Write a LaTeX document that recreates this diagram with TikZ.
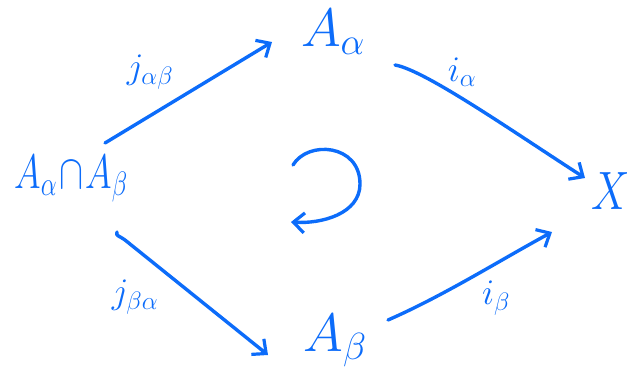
\documentclass[tikz,border=0pt]{standalone}
\usepackage{fix-cm}
\usepackage{graphicx}
\usetikzlibrary{arrows.meta,calc}
\definecolor{ink}{RGB}{12,108,250}
\begin{document}
\begin{tikzpicture}[x=1pt,y=-1pt,
  obj/.style={text=ink,inner sep=0pt,font=\fontsize{54}{60}\selectfont},
  lbl/.style={text=ink,inner sep=0pt,font=\fontsize{36}{42}\selectfont},
  conn/.style={draw=ink,line width=3.4pt,line cap=round,line join=round,
    -{Straight Barb[length=11pt,width=20pt,line width=3.2pt]}}]
\useasboundingbox (0,0) rectangle (627,373);
\node[obj] (AB) at (71,179) {\scalebox{0.82}[1.1]{\fontsize{44}{50}\selectfont$A_\alpha\!\cap\! A_\beta$}};
\node[obj] (Aa) at (333,32) {$A_\alpha$};
\node[obj] (Ab) at (335,341) {$A_\beta$};
\node[obj] (X) at (611,191) {\scalebox{0.8}[1]{$X$}};
\node[lbl] (l1) at (150,72) {$j_{\alpha\beta}$};
\node[lbl] (l2) at (462,72) {$i_\alpha$};
\node[lbl] (l3) at (135,297) {$j_{\beta\alpha}$};
\node[lbl] (l4) at (496,298) {$i_\beta$};
\coordinate (rc) at (322,192);
% arrows
\draw[conn] ($(AB)+(34,-36)$) -- ($(Aa)+(-61,10)$);
\draw[conn] ($(Aa)+(62,33)$) .. controls +(30,5) and +(-70,-45) .. ($(X)+(-26,-13)$);
\draw[conn] ($(AB)+(46,53)$) .. controls +(-2,4) and +(-5,-4) .. ($(AB)+(54,61)$) -- ($(Ab)+(-67,14)$);
\draw[conn] ($(Ab)+(53,-21)$) .. controls +(55,-24) and +(-55,30) .. ($(X)+(-59,41)$);
\draw[conn] ($(rc)+(-29,-27)$) .. controls +(15,-25) and +(0,-40) .. ($(rc)+(38,-8)$)
  .. controls +(0,30) and +(30,2) .. ($(rc)+(-31,30)$);
\end{tikzpicture}
\end{document}
